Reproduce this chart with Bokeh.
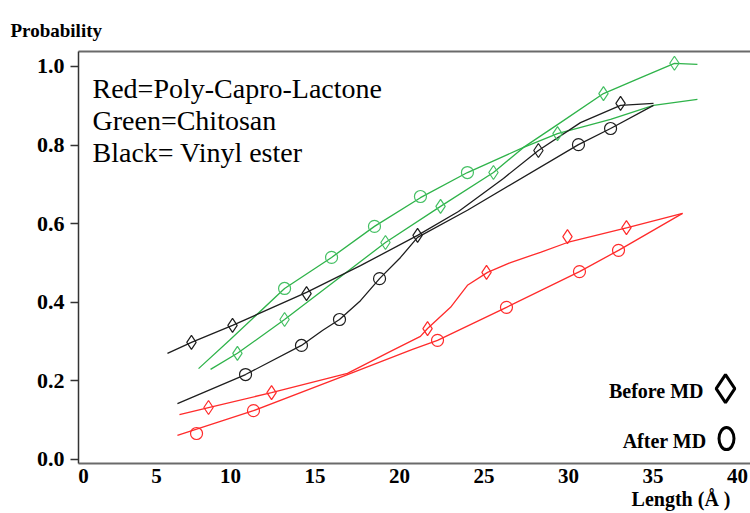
from bokeh.plotting import figure
from bokeh.models import Range1d, FixedTicker, LinearAxis, Label, PrintfTickFormatter, Title
from bokeh.embed import file_html
from bokeh.resources import INLINE

# ---------------- data ----------------
# markers: Before MD = diamond, After MD = circle
red_before_x = [8.70, 12.43, 21.66, 25.15, 29.94, 33.43]
red_before_y = [0.132, 0.170, 0.333, 0.476, 0.567, 0.590]
red_after_x = [7.99, 11.36, 22.25, 26.33, 30.65, 32.96]
red_after_y = [0.066, 0.124, 0.303, 0.387, 0.478, 0.532]

green_before_x = [10.41, 13.20, 19.17, 22.43, 25.56, 29.35, 32.07, 36.27]
green_before_y = [0.270, 0.356, 0.552, 0.644, 0.730, 0.829, 0.931, 1.008]
green_after_x = [13.20, 15.98, 18.52, 21.24, 24.02]
green_after_y = [0.435, 0.514, 0.593, 0.669, 0.730]

black_before_x = [7.69, 10.12, 14.50, 21.07, 28.22, 33.08]
black_before_y = [0.298, 0.341, 0.422, 0.570, 0.786, 0.906]
black_after_x = [10.89, 14.20, 16.45, 18.82, 30.59, 32.49]
black_after_y = [0.216, 0.290, 0.356, 0.460, 0.801, 0.842]

# fitted curves
red_before_fit_x = [6.98, 8.70, 12.43, 16.92, 19.47, 21.24, 21.66, 23.02, 24.02, 25.21, 26.57, 28.34, 29.94, 33.49, 36.75]
red_before_fit_y = [0.114, 0.132, 0.170, 0.219, 0.275, 0.313, 0.333, 0.387, 0.443, 0.476, 0.501, 0.527, 0.552, 0.590, 0.626]
red_after_fit_x = [6.86, 11.36, 16.92, 20.77, 22.25, 26.33, 30.65, 32.96, 36.75]
red_after_fit_y = [0.061, 0.124, 0.216, 0.280, 0.303, 0.387, 0.478, 0.532, 0.626]

green_before_fit_x = [8.82, 10.41, 13.20, 19.17, 22.43, 25.56, 27.34, 29.35, 32.07, 34.14, 36.27, 37.63]
green_before_fit_y = [0.229, 0.270, 0.356, 0.552, 0.644, 0.730, 0.794, 0.852, 0.931, 0.969, 1.008, 1.005]
green_after_fit_x = [8.11, 9.94, 13.20, 15.98, 18.52, 21.24, 24.02, 27.34, 29.35, 32.49, 35.03, 37.63]
green_after_fit_y = [0.231, 0.303, 0.435, 0.514, 0.593, 0.666, 0.730, 0.794, 0.829, 0.865, 0.901, 0.916]

black_before_fit_x = [6.27, 7.69, 10.12, 14.50, 17.69, 21.07, 23.49, 26.15, 28.22, 30.71, 33.08, 35.03]
black_before_fit_y = [0.270, 0.298, 0.341, 0.425, 0.493, 0.570, 0.631, 0.715, 0.786, 0.857, 0.901, 0.906]
black_after_fit_x = [6.86, 10.89, 14.20, 15.44, 16.45, 17.69, 18.82, 20.06, 21.07, 24.02, 30.59, 32.49, 35.03]
black_after_fit_y = [0.142, 0.216, 0.290, 0.328, 0.356, 0.404, 0.460, 0.514, 0.565, 0.634, 0.801, 0.842, 0.901]

x_tick_labels = ["0", "5", "10", "15", "20", "25", "30", "35", "40"]
y_ticks = [0.0, 0.2, 0.4, 0.6, 0.8, 1.0]
legend_lines = ["Red=Poly-Capro-Lactone", "Green=Chitosan", "Black= Vinyl ester"]
y_title = "Probability"
x_title = "Length (Å )"

# ---------------- layout / style ----------------
x_tick_pos = [1.30, 5.62, 10, 15, 20, 25, 30, 35, 40]
SERIF = "Liberation Serif"
RED, GREEN, GREEN_M, BLACK = "#ff2b2b", "#2fb34a", "#45c064", "#1e1e1e"
AXIS_GRAY = "#6a6a6a"

p = figure(width=750, height=513, output_backend="svg", toolbar_location=None,
           x_range=Range1d(1.006, 40.77), y_range=Range1d(-0.0104, 1.038),
           min_border_left=78, min_border_right=0, min_border_top=51, min_border_bottom=50,
           title=Title(text=y_title, align="left", offset=-68, standoff=22,
                       text_font=SERIF, text_font_style="bold", text_font_size="19px",
                       text_color="black"))
p.xgrid.visible = False
p.ygrid.visible = False
p.outline_line_color = None
p.background_fill_color = "white"
p.border_fill_color = "white"

xa = p.xaxis[0]
xa.ticker = FixedTicker(ticks=x_tick_pos)
xa.major_label_overrides = dict(zip(x_tick_pos, x_tick_labels))
xa.axis_line_color = AXIS_GRAY
xa.axis_line_width = 2
xa.major_tick_line_color = None
xa.major_tick_out = 0
xa.major_tick_in = 0
xa.minor_tick_line_color = None
xa.minor_tick_out = 0
xa.major_label_text_font = SERIF
xa.major_label_text_font_style = "bold"
xa.major_label_text_font_size = "21px"
xa.major_label_text_color = "black"
xa.major_label_standoff = 5

ya = p.yaxis[0]
ya.ticker = FixedTicker(ticks=y_ticks)
ya.formatter = PrintfTickFormatter(format="%.1f")
ya.axis_line_color = "#333333"
ya.axis_line_width = 1.5
ya.major_tick_out = 8
ya.major_tick_in = 0
ya.major_tick_line_color = "#333333"
ya.major_tick_line_width = 1.5
ya.minor_tick_line_color = None
ya.major_label_text_font = SERIF
ya.major_label_text_font_style = "bold"
ya.major_label_text_font_size = "22px"
ya.major_label_text_color = "black"
ya.major_label_standoff = 6

top = LinearAxis(ticker=FixedTicker(ticks=[]), axis_line_color=AXIS_GRAY, axis_line_width=2,
                 major_tick_line_color=None, minor_tick_line_color=None,
                 major_tick_out=0, minor_tick_out=0, major_label_standoff=0,
                 major_label_text_font_size="0px")
p.add_layout(top, "above")

p.add_layout(Title(text=x_title, align="right", offset=20, standoff=0,
                   text_font=SERIF, text_font_style="bold", text_font_size="20px",
                   text_color="black"), "below")

# fitted curves
for fx, fy, c in [(red_before_fit_x, red_before_fit_y, RED), (red_after_fit_x, red_after_fit_y, RED),
                  (green_before_fit_x, green_before_fit_y, GREEN), (green_after_fit_x, green_after_fit_y, GREEN),
                  (black_before_fit_x, black_before_fit_y, BLACK), (black_after_fit_x, black_after_fit_y, BLACK)]:
    p.line(fx, fy, line_color=c, line_width=1.3)

# markers
for mx, my, c in [(red_before_x, red_before_y, RED), (green_before_x, green_before_y, GREEN_M),
                  (black_before_x, black_before_y, BLACK)]:
    p.scatter(mx, my, marker="diamond", size=14, fill_color=None, line_color=c, line_width=1.2)
for mx, my, c in [(red_after_x, red_after_y, RED), (green_after_x, green_after_y, GREEN_M),
                  (black_after_x, black_after_y, BLACK)]:
    p.scatter(mx, my, marker="circle", size=12, fill_color=None, line_color=c, line_width=1.2)

# texts inside the frame (screen units are relative to the frame's bottom-left corner)
for i, t in enumerate(legend_lines):
    p.add_layout(Label(x=14, y=375 - 32 * i, x_units="screen", y_units="screen", text=t,
                       text_font=SERIF, text_font_size="28px", text_color="black",
                       text_baseline="alphabetic"))

p.add_layout(Label(x=625, y=73, x_units="screen", y_units="screen", text="Before MD",
                   text_font=SERIF, text_font_style="bold", text_font_size="20px",
                   text_color="black", text_align="right", text_baseline="middle"))
p.add_layout(Label(x=628, y=23, x_units="screen", y_units="screen", text="After MD",
                   text_font=SERIF, text_font_style="bold", text_font_size="20px",
                   text_color="black", text_align="right", text_baseline="middle"))
# legend keys
p.scatter([39.29], [0.180], marker="diamond", size=28, fill_color=None, line_color="black", line_width=3)
p.ellipse([39.35], [0.053], width=15, height=22, width_units="screen", height_units="screen",
          fill_color=None, line_color="black", line_width=3)

open("out.html", "w").write(file_html(p, INLINE))
